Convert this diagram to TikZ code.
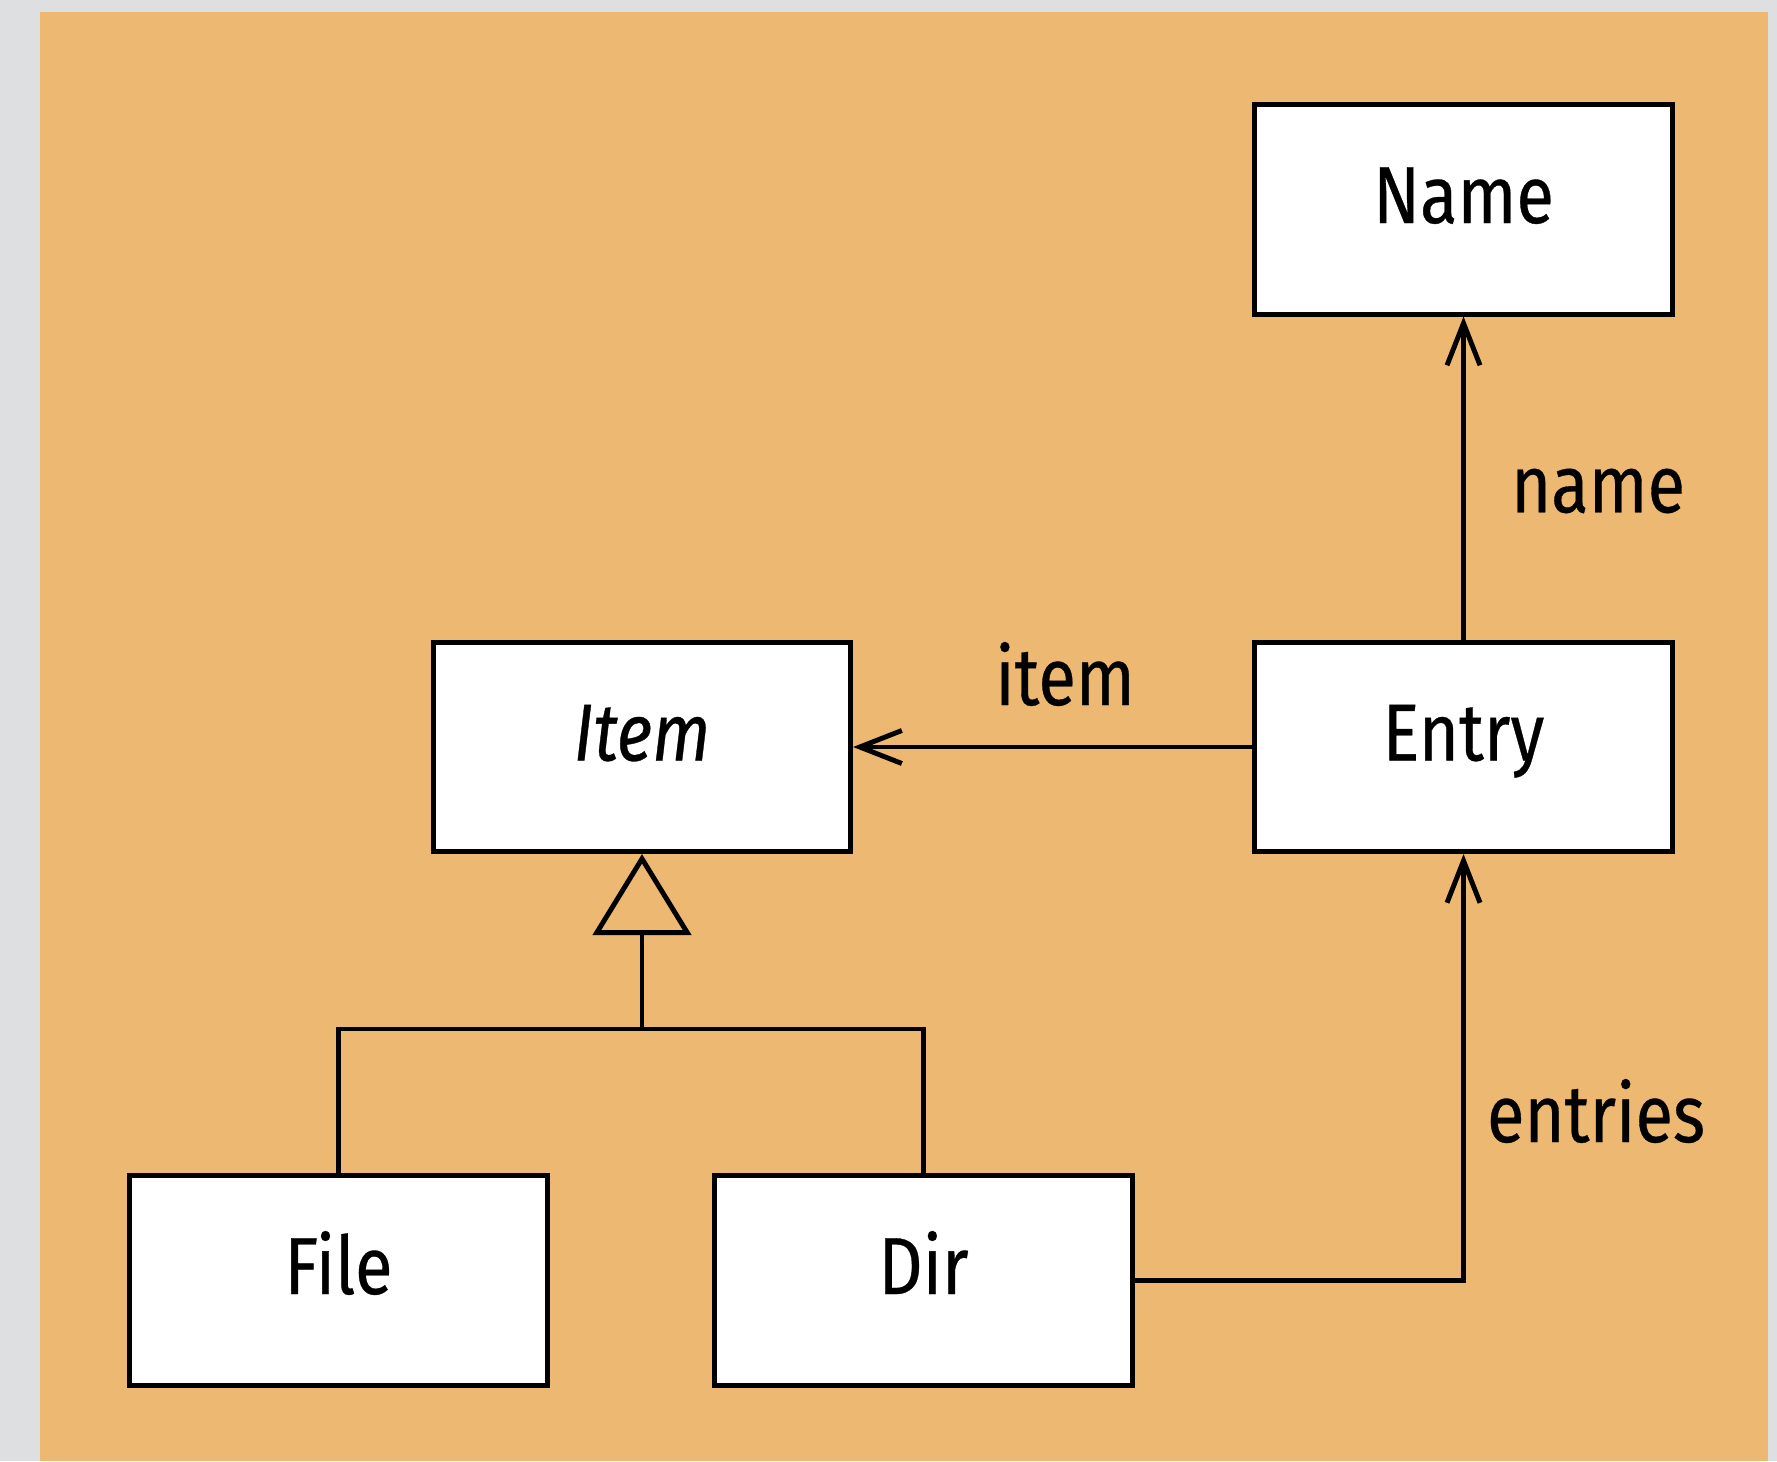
\documentclass[tikz,border=0pt]{standalone}
\usepackage{fontspec}
\setmainfont{Fira Sans}[FakeStretch=0.85, FakeBold=0.4]
\usetikzlibrary{arrows.meta}
\definecolor{sand}{HTML}{ECB872}
\definecolor{frame}{HTML}{DEDFE0}

\begin{document}
\begin{tikzpicture}[
    x=0.01cm, y=-0.01cm,
    box/.style={draw, line width=1.4pt, fill=white, minimum width=4.17cm, minimum height=2.09cm,
      inner sep=0pt, text height=0.57cm, text depth=0.3cm, font=\fontsize{23}{27}\selectfont},
    role/.style={font=\fontsize{23}{27}\selectfont, inner sep=0pt},
    assoc/.style={line width=1.4pt, -{Straight Barb[length=0.42cm, width=0.33cm, line width=1.4pt]}},
    inherit/.style={line width=1.4pt, -{Triangle[open, length=0.81cm, width=0.98cm, line width=1.4pt]}}
]

% Background
\fill[frame] (0, 0) rectangle (1777, 1461);
\fill[sand] (40, 12) rectangle (1768, 1461);

% Classes
\node[box] (name) at (1463.5, 209.5) {Name};
\node[box] (item) at (642, 747) {\itshape Item};
\node[box] (entry) at (1463.5, 747) {Entry};
\node[box] (file) at (338.5, 1280.5) {File};
\node[box] (dir) at (923.5, 1280.5) {Dir};

% Associations
\draw[assoc] (entry) -- (item);
\draw[assoc] (entry) -- (name);
\draw[assoc] (dir.east) -| (entry.south);
\node[role] (lname) at (1598, 491) {name};
\node[role] (litem) at (1065, 674) {item};
\node[role] (lentries) at (1596, 1111) {entries};

% Generalisation
\coordinate (join) at (642, 1029);
\draw[inherit] (join) -- (item);
\draw[line width=1.4pt] (file.north) |- (join) -| (dir.north);

\end{tikzpicture}
\end{document}
